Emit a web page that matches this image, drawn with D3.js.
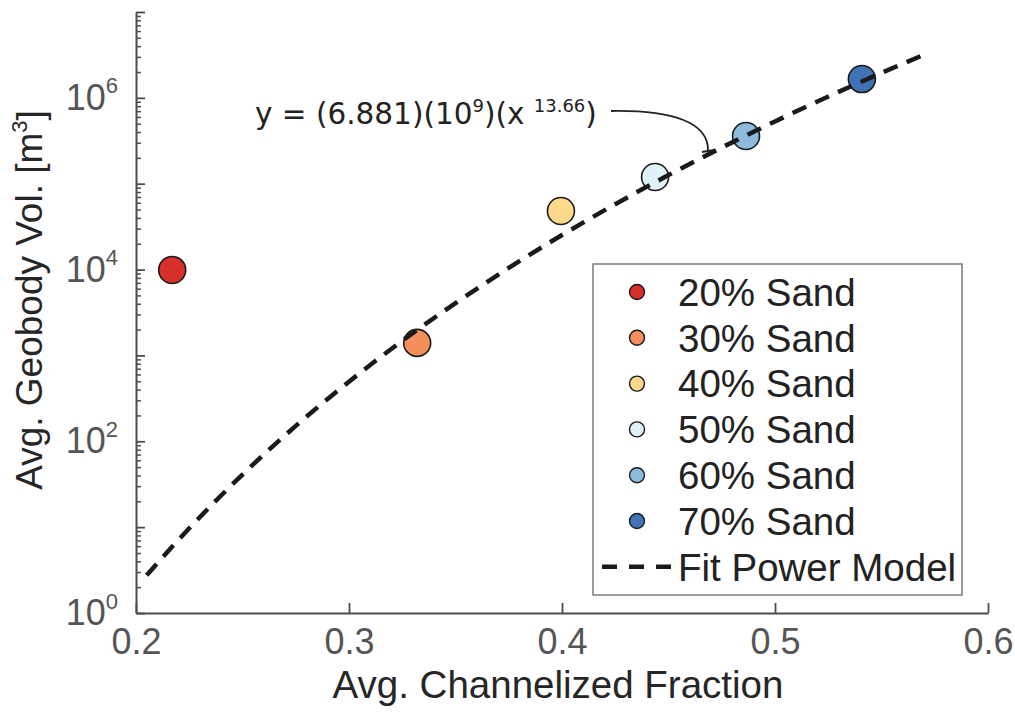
<!DOCTYPE html>
<html>
<head>
<meta charset="utf-8">
<script src="https://cdn.jsdelivr.net/npm/d3@7"></script>
<style>
  html, body { margin: 0; padding: 0; background: #fff; }
  svg { display: block; }
</style>
</head>
<body>
<svg id="chart" width="1015" height="713"></svg>
<script>
// ---- data ----
const categories = ["20% Sand", "30% Sand", "40% Sand", "50% Sand", "60% Sand", "70% Sand"];
const channelFrac = [0.217, 0.332, 0.3995, 0.4437, 0.4864, 0.5408];
const geobodyVol = [9900, 1400, 48100, 119700, 359500, 1657000];
const sandColors = ["#d7302a", "#f48e5b", "#fdd98b", "#dff2f8", "#8cbbdb", "#3f73b5"];
const fitX = [0.205, 0.225, 0.25, 0.275, 0.30, 0.325, 0.35, 0.375, 0.40, 0.425, 0.45, 0.475, 0.50, 0.535, 0.57];
const fitY = [2.76, 9.7, 41, 151, 495, 1480, 4070, 10450, 25240, 57750, 126000, 263800, 531600, 1340000, 3184000];
const xTickValues = [0.2, 0.3, 0.4, 0.5, 0.6];
const yDecades = [1, 10, 100, 1e3, 1e4, 1e5, 1e6, 1e7];
const yLabelled = [1, 100, 1e4, 1e6];
const fitLabel = "Fit Power Model";
const equation = { lead: "y = (6.881)(10", sup1: "9", mid: ")(x ", sup2: "13.66", tail: ")" };

// ---- scales ----
const svg = d3.select("#chart");
const x = d3.scaleLinear().domain([0.2, 0.6]).range([136, 988]);
const y = d3.scaleLog().domain([1, 1e7]).range([613, 12]);

const axisColor = "#4d4d4d";
const tickFont = "'Liberation Sans Narrow', 'Arial Narrow', 'Liberation Sans', Arial, sans-serif";
const mainFont = "'Liberation Sans', Arial, Helvetica, sans-serif";

// minor y ticks
const yMinor = [];
yDecades.slice(0, -1).forEach(d => { for (let k = 2; k <= 9; k++) yMinor.push(d * k); });

const gYMinor = svg.append("g").attr("transform", "translate(136,0)")
  .call(d3.axisLeft(y).tickValues(yMinor).tickSize(-5).tickSizeOuter(0).tickFormat(""));
gYMinor.select(".domain").remove();
gYMinor.selectAll("line").attr("stroke", axisColor).attr("stroke-width", 1.5);

const gY = svg.append("g").attr("transform", "translate(136,0)")
  .call(d3.axisLeft(y).tickValues(yDecades).tickSize(-9).tickSizeOuter(0).tickPadding(18)
    .tickFormat(d => yLabelled.includes(d) ? "10" : ""));
gY.select(".domain").attr("stroke", axisColor).attr("stroke-width", 2);
gY.selectAll("line").attr("stroke", axisColor).attr("stroke-width", 1.8);
gY.selectAll("text")
  .attr("font-family", tickFont).attr("font-size", 36).attr("fill", "#555")
  .each(function(d) {
    if (!yLabelled.includes(d)) return;
    const t = d3.select(this);
    t.append("tspan").attr("font-size", 22).attr("dy", "-0.75em").text(Math.round(Math.log10(d)));
  });

const gX = svg.append("g").attr("transform", "translate(0,613)")
  .call(d3.axisBottom(x).tickValues(xTickValues).tickSize(-10).tickSizeOuter(0).tickPadding(15)
    .tickFormat(d3.format(".1f")));
gX.select(".domain").attr("stroke", axisColor).attr("stroke-width", 2);
gX.selectAll("line").attr("stroke", axisColor).attr("stroke-width", 1.8);
gX.selectAll("text").attr("font-family", tickFont).attr("font-size", 36).attr("fill", "#555");

// axis titles
svg.append("text").attr("x", 558).attr("y", 698)
  .attr("text-anchor", "middle").attr("font-family", mainFont).attr("font-size", 38.5)
  .attr("fill", "#262626").text("Avg. Channelized Fraction");

const yTitle = svg.append("text").attr("transform", "translate(42,300) rotate(-90)")
  .attr("text-anchor", "middle").attr("font-family", mainFont).attr("font-size", 37)
  .attr("fill", "#262626");
yTitle.append("tspan").text("Avg. Geobody Vol. [m");
yTitle.append("tspan").attr("font-size", 22).attr("dy", "-0.7em").text("3");
yTitle.append("tspan").attr("dy", "0.45em").text("]");

// markers
svg.append("g").selectAll("circle").data(categories).join("circle")
  .attr("cx", (d, i) => x(channelFrac[i]))
  .attr("cy", (d, i) => y(geobodyVol[i]))
  .attr("r", 13.5)
  .attr("fill", (d, i) => sandColors[i])
  .attr("stroke", "#1a1a1a").attr("stroke-width", 1.6);

// fit line
const fitData = fitX.map((v, i) => [v, fitY[i]]);
svg.append("path").datum(fitData)
  .attr("d", d3.line().x(d => x(d[0])).y(d => y(d[1])).curve(d3.curveMonotoneX))
  .attr("fill", "none").attr("stroke", "#1a1a1a").attr("stroke-width", 4.5)
  .attr("stroke-dasharray", "15,10");

// equation annotation
const eq = svg.append("text").attr("x", 255).attr("y", 124)
  .attr("font-family", "'DejaVu Sans', Verdana, sans-serif").attr("font-size", 29.5).attr("fill", "#222");
eq.append("tspan").text(equation.lead);
eq.append("tspan").attr("font-size", 18).attr("dy", -12).text(equation.sup1);
eq.append("tspan").attr("dy", 12).text(equation.mid);
eq.append("tspan").attr("font-size", 18).attr("dy", -12).text(equation.sup2);
eq.append("tspan").attr("dy", 12).text(equation.tail);

svg.append("path")
  .attr("d", "M611,111 C672,110 709,122 708,151")
  .attr("fill", "none").attr("stroke", "#222").attr("stroke-width", 1.8);
svg.append("path")
  .attr("d", "M702,152 L714,150")
  .attr("fill", "none").attr("stroke", "#222").attr("stroke-width", 1.8);

// legend
const lg = svg.append("g");
lg.append("rect").attr("x", 593).attr("y", 264).attr("width", 369).attr("height", 331)
  .attr("fill", "#fff").attr("stroke", "#666").attr("stroke-width", 1.3);
const rowY = i => 292 + i * 45.8;
categories.forEach((c, i) => {
  lg.append("circle").attr("cx", 637).attr("cy", rowY(i)).attr("r", 7.5)
    .attr("fill", sandColors[i]).attr("stroke", "#1a1a1a").attr("stroke-width", 1.4);
  lg.append("text").attr("x", 678).attr("y", rowY(i)).attr("dy", "0.36em")
    .attr("font-family", mainFont).attr("font-size", 38.5).attr("fill", "#222").text(c);
});
lg.append("line").attr("x1", 602).attr("x2", 676).attr("y1", rowY(6)).attr("y2", rowY(6))
  .attr("stroke", "#1a1a1a").attr("stroke-width", 4.5).attr("stroke-dasharray", "15,12");
lg.append("text").attr("x", 678).attr("y", rowY(6)).attr("dy", "0.36em")
  .attr("font-family", mainFont).attr("font-size", 38.5).attr("fill", "#222").text(fitLabel);
</script>
</body>
</html>
